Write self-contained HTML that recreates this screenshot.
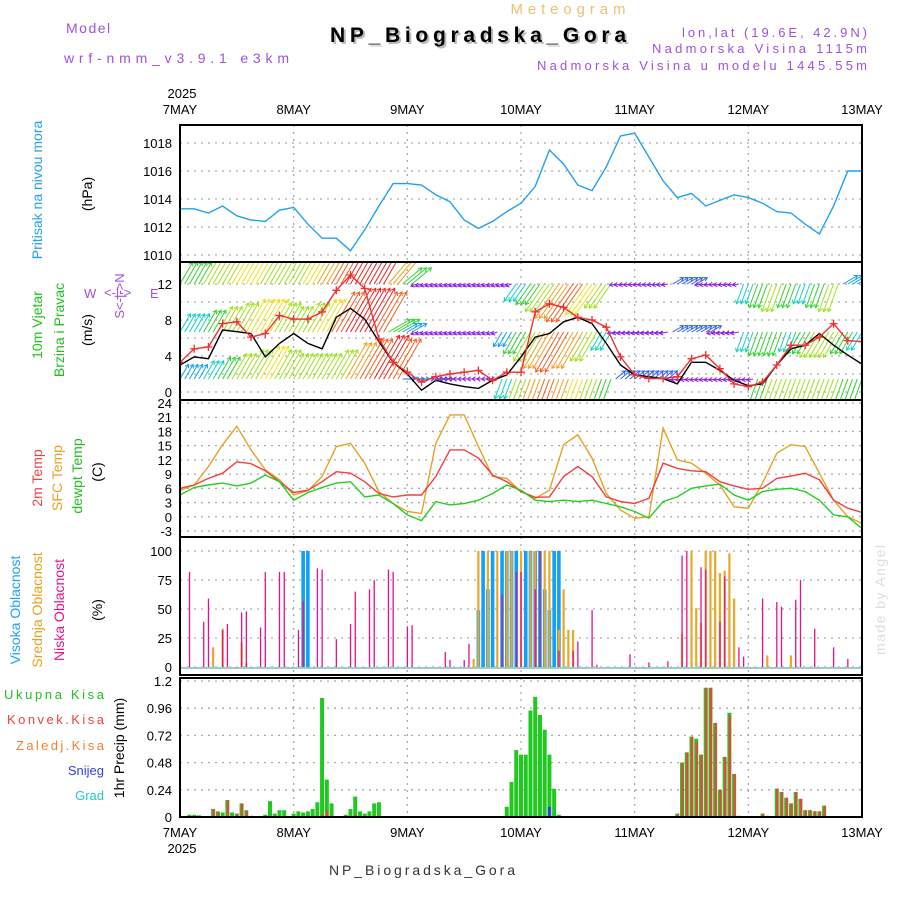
<!DOCTYPE html>
<html><head><meta charset="utf-8"><style>
body{margin:0;background:#fff}
svg{display:block;font-family:"Liberation Sans",sans-serif}
</style></head><body>
<svg id="c" width="900" height="900" xmlns="http://www.w3.org/2000/svg">
<g id="hdr">
<text x="66" y="33" fill="#a050e0" font-size="14" letter-spacing="1.5">Model</text>
<text x="64" y="63" fill="#a050e0" font-size="14" textLength="225">wrf-nmm_v3.9.1 e3km</text>
<text x="568" y="14" fill="#f0c070" font-size="15" text-anchor="middle" textLength="115">Meteogram</text>
<text x="480" y="44" fill="#bbb" font-size="21" font-weight="bold" text-anchor="middle" textLength="296">NP_Biogradska_Gora</text>
<text x="478" y="42" fill="#000" font-size="21" font-weight="bold" text-anchor="middle" textLength="296">NP_Biogradska_Gora</text>
<text x="867" y="37" fill="#a050e0" font-size="13" text-anchor="end" textLength="185">lon,lat (19.6E, 42.9N)</text>
<text x="867" y="53" fill="#a050e0" font-size="13" text-anchor="end" textLength="215">Nadmorska Visina 1115m</text>
<text x="867" y="70" fill="#a050e0" font-size="13" text-anchor="end" textLength="330">Nadmorska Visina u modelu 1445.55m</text>
<text x="422" y="875" fill="#333" font-size="14" text-anchor="middle" textLength="186">NP_Biogradska_Gora</text>
<text x="885" y="600" fill="#d8e0d8" font-size="14" text-anchor="middle" transform="rotate(-90 885 600)" textLength="110">made by Angel</text>
</g>
</svg>
<script>
// ---------- data ----------
const days=["7MAY","8MAY","9MAY","10MAY","11MAY","12MAY","13MAY"];
// 3-hourly (49 points, hour 0..144)
const pressure=[1013.3,1013.3,1013.0,1013.5,1012.8,1012.5,1012.4,1013.2,1013.4,1012.2,1011.2,1011.2,1010.3,1011.8,1013.5,1015.1,1015.1,1015.0,1014.3,1013.8,1012.5,1011.9,1012.4,1013.1,1013.7,1014.9,1017.5,1016.5,1015.0,1014.6,1016.3,1018.5,1018.7,1017.0,1015.3,1014.1,1014.4,1013.5,1013.9,1014.3,1014.1,1013.7,1013.1,1013.0,1012.2,1011.5,1013.5,1016.0,1016.0];
const windSpeed=[3.0,3.9,3.7,6.9,6.7,6.5,3.9,5.4,6.5,5.4,4.8,8.3,9.3,8.1,5.6,3.3,2.0,0.2,1.3,0.9,0.6,0.4,1.3,1.9,3.9,6.1,6.5,7.8,8.3,7.6,5.4,3.0,1.9,1.7,1.5,0.9,3.3,3.3,2.4,1.3,0.7,0.9,3.0,4.8,5.2,6.5,5.2,4.1,3.1];
const windGust=[3.3,4.8,5.0,7.6,7.8,6.1,6.5,8.5,8.1,8.1,8.9,11.3,13.0,11.5,5.9,3.3,2.2,1.1,1.7,2.0,2.2,2.4,1.3,2.2,2.2,8.9,9.8,9.4,8.3,8.0,7.2,3.9,1.9,1.5,1.5,1.7,3.7,4.1,2.6,0.9,0.6,1.1,3.0,5.2,5.2,6.1,7.6,5.7,5.6];
const row1Spd=[6,6,7,7,9,9,8,8,8,9,10,11,12,12,12,10,6,1.5,1.5,1.5,1.5,1.5,1.5,1.5,5,6,8,10,11,9,7,1.5,1.5,1.5,1.5,3,3,1.5,1.5,1.5,5,6,7,6,5,6,7,4,4];
const row1Dir=[60,60,60,60,60,60,60,60,60,60,60,60,60,60,60,50,40,200,200,200,200,200,200,200,235,235,235,235,235,235,235,190,190,190,190,30,30,190,190,190,250,250,250,250,250,250,250,30,30];
const row2Spd=[5,5,6,7,8,9,9,8,7,8,9,11,12,12,11,6,4,1.5,1.5,1.5,1.5,1.5,1.5,4,6,8,10,11,10,8,5,2,2,2,2,3,3,3,2,2,5,6,6,5,6,7,7,6,5];
const row2Dir=[60,60,60,60,60,60,60,60,60,60,60,60,60,60,60,30,30,200,200,200,200,200,200,240,240,240,240,240,240,240,240,190,190,190,190,30,30,30,190,190,250,250,250,250,240,240,240,240,240];
const row3Spd=[4,4,5,6,7,8,9,8,7,7,7,8,10,11,12,11,3,3,3,1.5,1.5,1.5,1.5,5,8,10,11,10,9,7,6,3,3,3,3,1.5,1.5,1.5,1.5,1.5,1.5,6,7,8,8,7,7,6,6];
const row3Dir=[60,60,60,60,60,60,60,60,60,60,60,60,60,60,60,60,0,0,0,180,180,180,180,250,250,250,250,250,250,250,250,40,40,40,40,190,190,190,190,190,190,250,250,250,250,250,250,250,250];
const tSfc=[5.6,6.7,10.6,15.2,19.1,14.1,9.9,7.8,4.6,5.5,8.5,14.8,15.5,11.3,5.3,2.8,1.1,0.7,15.5,21.5,21.5,14.8,8.5,8.1,5.3,3.9,5.6,15.2,17.3,12.4,4.9,1.4,-0.3,0.0,18.7,12.0,11.3,9.2,6.7,2.1,1.8,7.1,13.4,15.2,14.8,9.2,3.5,0.0,-1.4];
const t2m=[6.0,6.7,8.1,9.2,11.6,11.2,9.7,7.4,5.1,5.6,7.4,9.5,9.2,7.4,4.9,4.2,4.6,4.6,8.5,14.1,14.1,12.4,8.8,7.4,5.3,4.1,4.2,8.5,10.6,8.5,4.2,3.2,2.8,3.9,11.3,10.2,9.7,9.5,7.4,6.5,5.8,6.0,8.1,8.6,9.2,7.8,3.5,1.8,0.9];
const tDew=[4.6,6.2,6.7,7.1,6.5,7.1,8.8,7.4,3.5,5.1,6.2,7.1,7.4,4.2,4.6,2.8,0.4,-0.8,3.2,2.5,2.8,3.5,4.9,6.7,5.6,3.5,3.2,3.5,3.2,3.5,2.8,2.1,1.1,-0.3,3.2,4.2,6.0,6.5,6.9,4.6,3.5,5.3,5.8,6.0,5.3,3.5,0.4,0.0,-2.5];
// clouds: [hour, percent]
const cloudLow=[[2,82],[5,39],[6,59],[9,32],[10,37],[13,47],[14,48],[17,34],[18,82],[21,82],[22,82],[25,32],[26,57],[29,85],[30,84],[33,24],[36,37],[37,65],[40,67],[41,75],[44,84],[45,82],[48,35],[49,36],[56,13],[57,6],[60,6],[61,20],[68,62],[71,82],[72,82],[75,67],[76,100],[80,14],[83,14],[84,22],[87,49],[88,2],[95,11],[99,4],[103,5],[106,96],[107,100],[110,86],[111,84],[114,39],[115,78],[118,17],[119,9],[123,59],[126,56],[127,52],[130,58],[131,75],[134,33],[138,17],[141,7]];
const cloudMid=[[7,17],[9,33],[13,21],[14,3],[62,7],[63,100],[65,100],[67,100],[69,100],[70,100],[72,100],[74,100],[75,100],[77,100],[78,100],[80,32],[81,67],[82,32],[83,32],[106,29],[108,100],[109,51],[110,38],[111,100],[112,100],[113,100],[114,81],[115,83],[116,98],[117,59],[124,10],[129,10]];
const cloudHigh=[[26,100],[27,100],[63,49],[64,100],[65,67],[66,100],[68,100],[69,100],[70,100],[71,100],[73,100],[74,100],[75,100],[76,100],[77,67],[78,49],[79,100],[80,100]];
// precip: [hour, total mm, convective mm, snow mm]
const precip=[[2,0.02,0],[3,0.02,0],[4,0.015,0],[7,0.07,0.07],[8,0.05,0.04],[9,0.04,0],[10,0.15,0.15],[11,0.04,0],[12,0.03,0.03],[13,0.12,0.12],[14,0.06,0.05],[15,0.01,0.01],[18,0.02,0],[19,0.14,0],[20,0.03,0],[21,0.06,0],[22,0.06,0],[23,0.01,0],[24,0.03,0],[25,0.05,0],[26,0.04,0],[27,0.05,0],[28,0.07,0],[29,0.13,0],[30,1.05,0.02],[31,0.33,0.06],[32,0.12,0],[35,0.02,0],[36,0.07,0],[37,0.18,0.02],[38,0.05,0],[39,0.03,0],[40,0.05,0],[41,0.12,0],[42,0.13,0],[69,0.09,0],[70,0.31,0],[71,0.59,0],[72,0.55,0],[73,0.55,0],[74,0.94,0],[75,1.06,0],[76,0.9,0],[77,0.77,0],[78,0.55,0,0.09],[79,0.25,0],[80,0.02,0],[105,0.03,0.03],[106,0.48,0.48],[107,0.57,0.57],[108,0.71,0.71],[109,0.69,0.66],[110,0.55,0.55],[111,1.14,1.14],[112,1.14,1.14],[113,0.83,0.83],[114,0.24,0.24],[115,0.53,0.53],[116,0.92,0.9],[117,0.38,0.38],[118,0.01,0.01],[123,0.03,0.03],[124,0.01,0.01],[126,0.25,0.25],[127,0.22,0.22],[128,0.17,0.17],[129,0.12,0.12],[130,0.22,0.22],[131,0.16,0.16],[132,0.06,0.06],[133,0.06,0.06],[134,0.05,0.05],[135,0.05,0.05],[136,0.10,0.10]];
const pTicks=[1010,1012,1014,1016,1018];
const wTicks=[0,4,8,12];
const tTicks=[-3,0,3,6,9,12,15,18,21,24];
const cTicks=[0,25,50,75,100];
const rTicks=["0","0.24","0.48","0.72","0.96","1.2"];

// ---------- scales ----------
const L=180,R=862;
const X=h=>L+h*(R-L)/144;
const yP=v=>143+(1018-v)*14;
const yW=v=>392-v*9;
const yT=v=>403+(24-v)*4.74;
const yC=v=>667-v*1.16;
const yR=v=>817-v/1.2*136;
const panels=[[125,262],[262,400],[400,537],[537,675],[678,817]];
const NS="http://www.w3.org/2000/svg";
const svg=document.getElementById('c');
function mk(tag,at,parent){const e=document.createElementNS(NS,tag);for(const k in at)e.setAttribute(k,at[k]);(parent||svg).appendChild(e);return e;}
function txt(s,x,y,at,parent){const e=mk('text',Object.assign({x:x,y:y,'font-size':13},at||{}),parent);e.textContent=s;return e;}

const defs=mk('defs',{});
panels.forEach((p,i)=>{const cp=mk('clipPath',{id:'cp'+i},defs);mk('rect',{x:L,y:p[0],width:R-L,height:p[1]-p[0]},cp);});

const grid=mk('g',{stroke:'#aaa','stroke-width':1.3,'stroke-dasharray':'2,5',fill:'none'});


panels.forEach(p=>{for(let d=1;d<6;d++){mk('line',{x1:X(d*24),x2:X(d*24),y1:p[0],y2:p[1]},grid);}});
pTicks.forEach(v=>mk('line',{x1:L,x2:R,y1:yP(v),y2:yP(v)},grid));
[0,2,4,6,8,10,12].forEach(v=>mk('line',{x1:L,x2:R,y1:yW(v),y2:yW(v)},grid));
tTicks.forEach(v=>mk('line',{x1:L,x2:R,y1:yT(v),y2:yT(v)},grid));
cTicks.forEach(v=>mk('line',{x1:L,x2:R,y1:yC(v),y2:yC(v)},grid));
rTicks.forEach(v=>mk('line',{x1:L,x2:R,y1:yR(+v),y2:yR(+v)},grid));

function line(vals,ys,color,name,clip){const pts=vals.map((v,i)=>X(i*3).toFixed(1)+','+ys(v).toFixed(1)).join(' ');const e=mk('polyline',{points:pts,fill:'none',stroke:color,'stroke-width':1.4,'clip-path':'url(#cp'+clip+')'});


return e;}

line(pressure,yP,'#22a0f0','pressure-line',0);

function spdColor(s){const c=['#9020e0','#3060f0','#10a0f0','#10d0c0','#30d030','#a0e020','#f0e020','#f0a020','#f06020','#f02020'];return c[Math.max(0,Math.min(9,Math.floor((s-1)/1.2)))];}
const wg=mk('g',{'clip-path':'url(#cp1)','stroke-width':1,fill:'none'});


[[row1Spd,row1Dir,284],[row2Spd,row2Dir,332],[row3Spd,row3Dir,379]].forEach(r=>{
 for(let i=0;i<49;i++){for(let k=0;k<3;k++){const h=i*3+k-1;if(h<0||h>144)continue;
  const s=r[0][i],a=r[1][i]*Math.PI/180,len=Math.max(6,s*4.2);
  const x0=X(h),y0=r[2],x1=x0+Math.cos(a)*len,y1=y0-Math.sin(a)*len,col=spdColor(s);
  const g=mk('g',{stroke:col},wg);
  mk('line',{x1:x0,y1:y0,x2:x1,y2:y1},g);
  const b1=a+Math.PI*0.82,b2=a-Math.PI*0.82;
  mk('polyline',{points:`${x1+Math.cos(b1)*4},${y1-Math.sin(b1)*4} ${x1},${y1} ${x1+Math.cos(b2)*4},${y1-Math.sin(b2)*4}`},g);
 }}});
line(windSpeed,yW,'#000','wind-speed-line',1);
line(windGust,yW,'#f03030','wind-gust-line',1);
const gm=mk('g',{stroke:'#f03030','stroke-width':1.3,'clip-path':'url(#cp1)'});


windGust.forEach((v,i)=>{const x=X(i*3),y=yW(v);mk('path',{d:`M${x-4},${y}h8M${x},${y-4}v8`},gm);});

line(tSfc,yT,'#e8a020','sfc-temp-line',2);
line(t2m,yT,'#f04040','2m-temp-line',2);
line(tDew,yT,'#20d020','dewpoint-line',2);

const cg=mk('g',{'clip-path':'url(#cp3)'});


mk('line',{x1:L,x2:R,y1:yC(0)+1,y2:yC(0)+1,stroke:'#9cc',"stroke-width":2},cg);
cloudHigh.forEach(d=>{mk('rect',{x:X(d[0])-1.8,y:yC(d[1]),width:3.6,height:yC(0)-yC(d[1]),fill:'#10a0f8'},cg);});
cloudMid.forEach(d=>{mk('rect',{x:X(d[0])-1.1,y:yC(d[1]),width:2.2,height:yC(0)-yC(d[1]),fill:'#e8a828'},cg);});
cloudLow.forEach(d=>{mk('rect',{x:X(d[0])-0.6,y:yC(d[1]),width:1.3,height:yC(0)-yC(d[1]),fill:'#e8108a'},cg);});

const rg=mk('g',{'clip-path':'url(#cp4)'});


precip.forEach(d=>{const x=X(d[0]);
 mk('rect',{x:x-2,y:yR(d[1]),width:4,height:yR(0)-yR(d[1]),fill:'#20c820'},rg);
 if(d[2]>0)mk('rect',{x:x-0.6,y:yR(d[2]),width:2.2,height:yR(0)-yR(d[2]),fill:'#f04040'},rg);
 if(d[3])mk('rect',{x:x-1.5,y:yR(d[3]),width:3,height:yR(0)-yR(d[3]),fill:'#3040f0'},rg);
});

panels.forEach((p,i)=>{const e=mk('rect',{x:L,y:p[0],width:R-L,height:p[1]-p[0],fill:'none',stroke:'#000','stroke-width':2});

});

const tl=mk('g',{'font-size':13,'text-anchor':'end',fill:'#000'});


pTicks.forEach(v=>txt(String(v),172,yP(v)+5,{},tl));
wTicks.forEach(v=>txt(String(v),172,yW(v)+5,{},tl));
tTicks.forEach(v=>txt(String(v),172,yT(v)+5,{},tl));
cTicks.forEach(v=>txt(String(v),172,yC(v)+5,{},tl));
rTicks.forEach(v=>txt(v,172,yR(+v)+5,{},tl));
const xl=mk('g',{'font-size':14,'text-anchor':'middle',fill:'#000'});


days.forEach((d,i)=>{txt(d,X(i*24),114,{},xl);txt(d,X(i*24),837,{},xl);});
txt('2025',182,98,{},xl);txt('2025',182,853,{},xl);

function vt(s,x,y,col,name){const e=txt(s,x,y,{fill:col,'font-size':14,'text-anchor':'middle',transform:`rotate(-90 ${x} ${y})`});

}
vt('Pritisak na nivou mora',42,190,'#22a0f0','pressure-title');
vt('(hPa)',92,194,'#000','pressure-unit');
vt('10m Vjetar',42,325,'#20c020','wind-title-1');
vt('Brzina i Pravac',64,330,'#20c020','wind-title-2');
vt('(m/s)',92,330,'#000','wind-unit');
vt('2m Temp',42,478,'#f04040','temp-title-2m');
vt('SFC Temp',62,478,'#e8a020','temp-title-sfc');
vt('dewpt Temp',82,476,'#20c020','temp-title-dew');
vt('(C)',102,472,'#000','temp-unit');
vt('Visoka Oblacnost',20,610,'#22a0f0','high-cloud-title');
vt('Srednja Oblacnost',42,610,'#e8a020','mid-cloud-title');
vt('Niska Oblacnost',64,610,'#e8108a','low-cloud-title');
vt('(%)',102,610,'#000','cloud-unit');
vt('1hr Precip (mm)',124,748,'#000','precip-title');
const lg=mk('g',{'font-size':14,'text-anchor':'end'});


txt('Ukupna Kisa',104,699,{fill:'#20c020',textLength:100},lg);
txt('Konvek.Kisa',104,724,{fill:'#f04040',textLength:97},lg);
txt('Zaledj.Kisa',104,750,{fill:'#f08030',textLength:88},lg);
txt('Snijeg',104,775,{fill:'#3040f0'},lg);
txt('Grad',104,800,{fill:'#20c8c8'},lg);
const cm=mk('g',{fill:'#a050e0','font-size':9});


txt('W',84,298,{},cm);txt('E',150,298,{},cm);
txt('S<-|->N',124,296,{transform:'rotate(-90 124 296)','text-anchor':'middle'},cm);
txt('<-|->',104,297,{'text-anchor':'start'},cm);
</script>
</body></html>
